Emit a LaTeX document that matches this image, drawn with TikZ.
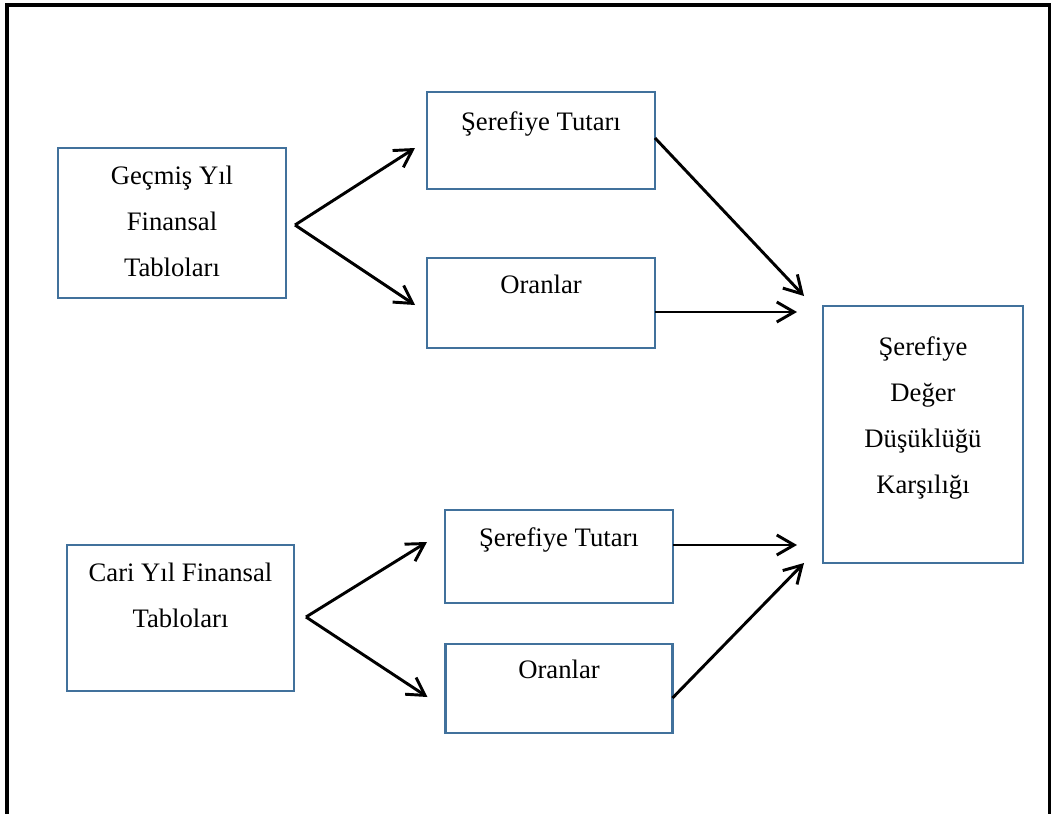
\documentclass[tikz,border=0pt]{standalone}
\usepackage{fontspec}
\setmainfont{Liberation Serif}
\usetikzlibrary{arrows.meta}
\definecolor{kenar}{HTML}{41719C}

\begin{document}
\begin{tikzpicture}[x=0.75pt,y=-0.75pt,>={Straight Barb[length=13pt,width=15pt]},
  kutu/.style={draw=kenar,line width=2.1pt,outer sep=0pt,inner sep=0pt},
  metin/.style={anchor=base,align=center,font=\fontsize{20}{34.5}\selectfont},
  ok/.style={->,line width=2.2pt}]
\useasboundingbox (0,0) rectangle (1051,814);
\draw[line width=2.6pt] (7,814) -- (7,5) -- (1050,5) -- (1050,814);

% kutular
\node[kutu,minimum width=171pt,minimum height=112.5pt] (gecmis) at (172,223) {};
\node[kutu,minimum width=171pt,minimum height=72.75pt] (tutar1) at (541,140.5) {};
\node[kutu,minimum width=171pt,minimum height=67.5pt] (oran1) at (541,303) {};
\node[kutu,minimum width=150pt,minimum height=192.75pt] (karsilik) at (923,434.5) {};
\node[kutu,minimum width=170.25pt,minimum height=109.5pt] (cari) at (180.5,618) {};
\node[kutu,minimum width=171pt,minimum height=69.75pt] (tutar2) at (559,556.5) {};
\node[kutu,minimum width=170.25pt,minimum height=66.75pt] (oran2) at (559,688.5) {};

% yazilar (son satirin tabani)
\node[metin] (gecmis-t) at (172,276) {Geçmiş Yıl\\Finansal\\Tabloları};
\node[metin] (tutar1-t) at (541,130) {Şerefiye Tutarı};
\node[metin] (oran1-t) at (541,293) {Oranlar};
\node[metin] (karsilik-t) at (923,493) {Şerefiye\\Değer\\Düşüklüğü\\Karşılığı};
\node[metin] (cari-t) at (180.5,627) {Cari Yıl Finansal\\Tabloları};
\node[metin] (tutar2-t) at (559,546) {Şerefiye Tutarı};
\node[metin] (oran2-t) at (559,678) {Oranlar};

% oklar
\draw[ok] ([shift={(9,2)}]gecmis.east) -- ([shift={(-12,7.5)}]tutar1.west);
\draw[ok] ([shift={(9,2)}]gecmis.east) -- ([shift={(-12,2)}]oran1.west);
\draw[ok] ([shift={(0,-2.5)}]tutar1.east) -- ([shift={(-19,-10)}]karsilik.north west);
\draw[ok] ([shift={(0,9)}]oran1.east) -- ([shift={(-26,6)}]karsilik.north west);
\draw[ok] ([shift={(12,-1)}]cari.east) -- ([shift={(-18,-14.5)}]tutar2.west);
\draw[ok] ([shift={(12,-1)}]cari.east) -- ([shift={(-18,8.5)}]oran2.west);
\draw[ok] ([shift={(0,-11.5)}]tutar2.east) -- ([shift={(-26,-18)}]karsilik.south west);
\draw[ok] ([shift={(0,9.5)}]oran2.east) -- ([shift={(-19,0)}]karsilik.south west);
\end{tikzpicture}
\end{document}
